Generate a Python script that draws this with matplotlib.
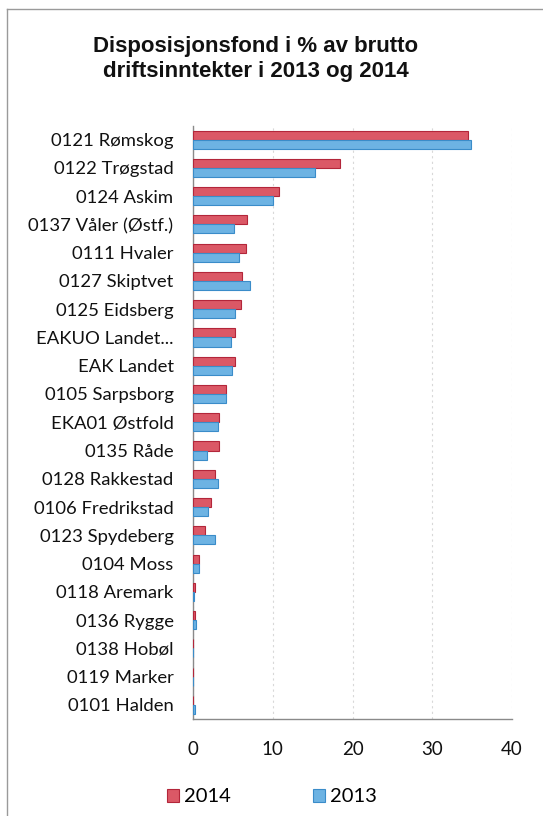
import matplotlib
matplotlib.use("Agg")
import matplotlib.pyplot as plt
import numpy as np
from matplotlib.patches import Rectangle
from matplotlib.lines import Line2D

categories = ["0121 Rømskog", "0122 Trøgstad", "0124 Askim", "0137 Våler (Østf.)",
              "0111 Hvaler", "0127 Skiptvet", "0125 Eidsberg", "EAKUO Landet...",
              "EAK Landet", "0105 Sarpsborg", "EKA01 Østfold", "0135 Råde",
              "0128 Rakkestad", "0106 Fredrikstad", "0123 Spydeberg", "0104 Moss",
              "0118 Aremark", "0136 Rygge", "0138 Hobøl", "0119 Marker", "0101 Halden"]
values_2014 = [34.5, 18.4, 10.8, 6.8, 6.6, 6.2, 6.0, 5.3, 5.3, 4.2, 3.3, 3.2,
               2.7, 2.2, 1.55, 0.8, 0.2, 0.2, 0.0, 0.0, 0.0]
values_2013 = [34.8, 15.3, 10.0, 5.2, 5.8, 7.1, 5.3, 4.8, 4.9, 4.2, 3.1, 1.75,
               3.1, 1.85, 2.8, 0.8, 0.15, 0.35, 0.0, 0.0, 0.2]
xticks = [0, 10, 20, 30, 40]
series_names = ["2014", "2013"]
title = "Disposisjonsfond i % av brutto\ndriftsinntekter i 2013 og 2014"

W, H = 543, 816
fig = plt.figure(figsize=(W / 100, H / 100), dpi=100)
fig.patch.set_facecolor("white")

left, right, top, bottom = 193, 512, 125.5, 719
ax = fig.add_axes([left / W, 1 - bottom / H, (right - left) / W, (bottom - top) / H])

n = len(categories)
y = np.arange(n)
bh = 0.32
red_face, red_edge = "#db5866", "#b3263a"
blue_face, blue_edge = "#6db3e3", "#3a8cc9"
ax.barh(y - bh / 2, values_2014, height=bh, color=red_face, edgecolor=red_edge,
        linewidth=0.8, label=series_names[0], zorder=3)
ax.barh(y + bh / 2, values_2013, height=bh, color=blue_face, edgecolor=blue_edge,
        linewidth=0.8, label=series_names[1], zorder=3)

ax.set_ylim(n - 0.5, -0.5)
ax.set_xlim(0, 40)
ax.set_xticks(xticks)
ax.set_yticks(y)
ax.set_yticklabels(categories, fontfamily="Lato", fontsize=13.3, color="#111111")
ax.set_xticklabels([str(t) for t in xticks], fontfamily="Lato", fontsize=13.5, color="#111111")
ax.tick_params(axis="y", length=0, pad=14)
ax.tick_params(axis="x", length=0, pad=16)
for s in ["top", "right"]:
    ax.spines[s].set_visible(False)
ax.spines["left"].set_color("#8a8a8a")
ax.spines["bottom"].set_color("#8a8a8a")
ax.spines["left"].set_linewidth(1.0)
ax.spines["bottom"].set_linewidth(1.0)
ax.grid(axis="x", color="#d8d8d8", linestyle=(0, (2, 3)), linewidth=0.8, zorder=0)
ax.set_axisbelow(True)

fig.text(256 / W, 1 - 59 / H, title, ha="center", va="center",
         fontfamily="Liberation Sans", fontweight="bold", fontsize=16,
         color="#111111", linespacing=1.3)

handles = [Rectangle((0, 0), 1, 1, facecolor=red_face, edgecolor=red_edge, linewidth=0.8),
           Rectangle((0, 0), 1, 1, facecolor=blue_face, edgecolor=blue_edge, linewidth=0.8)]
fig.legend(handles, series_names, loc="center", bbox_to_anchor=(272 / W, 1 - 797 / H),
           ncol=2, frameon=False, prop={"family": "Lato", "size": 14.5},
           handlelength=0.6, handleheight=0.6, handletextpad=0.25, columnspacing=4.1)

# outer frame (left and top edges as in the scan)
fig.add_artist(Line2D([7 / W, 7 / W], [0, 1 - 9 / H], transform=fig.transFigure,
                      color="#9a9a9a", linewidth=1.0))
fig.add_artist(Line2D([7 / W, 1], [1 - 9 / H, 1 - 9 / H], transform=fig.transFigure,
                      color="#9a9a9a", linewidth=1.0))

fig.savefig("out.png", dpi=100, facecolor="white")
